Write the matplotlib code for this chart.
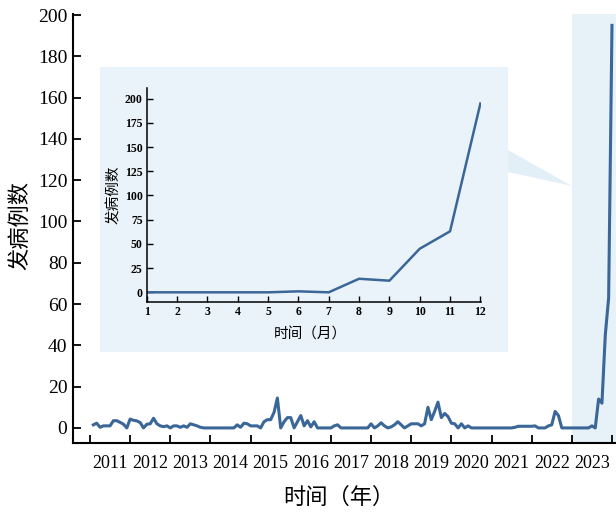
import matplotlib
matplotlib.use("Agg")
import matplotlib.pyplot as plt
from matplotlib.patches import Rectangle, Polygon
import numpy as np

# ---- data (monthly case counts) ----
cases_2011 = [1.5, 2.3, 0.3, 1, 1, 1, 3.5, 3.5, 2.7, 1.8, 0, 4.3]
cases_2012 = [3.7, 3.4, 2.6, 0, 1.8, 2, 4.7, 2, 1, 0.6, 1, 0]
cases_2013 = [1, 1, 0.3, 1, 0.3, 2, 1.5, 1, 0.3, 0, 0, 0]
cases_2014 = [0, 0, 0, 0, 0, 0, 0, 1.5, 0.3, 2.3, 2, 1]
cases_2015 = [1, 1, 0, 3, 4, 4, 7.5, 14.5, 0, 3, 5, 5]
cases_2016 = [0, 3, 6, 1, 3.5, 0.5, 3, 0, 0, 0, 0, 0]
cases_2017 = [1, 1.5, 0, 0, 0, 0, 0, 0, 0, 0, 0, 2]
cases_2018 = [0, 1, 2.5, 1, 0, 0.5, 1.5, 3, 1.5, 0, 1, 2]
cases_2019 = [2, 2, 1, 2, 10, 4, 8, 12.5, 5, 7, 5.5, 2.3]
cases_2020 = [2, 0, 2, 0, 1, 0, 0, 0, 0, 0, 0, 0]
cases_2021 = [0, 0, 0, 0, 0, 0, 0.3, 0.8, 0.8, 0.8, 0.8, 0.8]
cases_2022 = [1, 0, 0, 0, 1, 1.5, 8, 6, 0, 0, 0, 0]
cases_2023 = [0, 0, 0, 0, 0, 1, 0, 14, 12, 45, 63, 195]

years = list(range(2011, 2024))
year_labels = [str(y) for y in years]
months = list(range(1, 13))
main_yticks = list(range(0, 201, 20))
inset_yticks = list(range(0, 201, 25))

all_cases = (cases_2011 + cases_2012 + cases_2013 + cases_2014 + cases_2015 +
             cases_2016 + cases_2017 + cases_2018 + cases_2019 + cases_2020 +
             cases_2021 + cases_2022 + cases_2023)
t = np.array([y + m / 12.0 for y in years for m in months])

LINE = '#3A6698'
BG = '#EAF3F9'
SERIF = 'Liberation Serif'
CJK = ['Noto Sans CJK SC', 'DejaVu Sans']

W, H = 616, 514
fig = plt.figure(figsize=(W / 100, H / 100), dpi=100)

def fx(px):
    return px / W

def fy(py):
    return 1 - py / H

# main axes
ax = fig.add_axes([fx(73), fy(443), fx(543), 429 / H])
ax.set_zorder(0)
ax.set_xlim(2010.577, 2024.1)
ax.set_ylim(-7.3, 200.5)
ax.axvspan(2023, 2024.1, color='#E6F1F8', zorder=0, lw=0)
ax.plot(t, all_cases, color=LINE, lw=2.2, zorder=3)

for s in ['top', 'right']:
    ax.spines[s].set_visible(False)
for s in ['left', 'bottom']:
    ax.spines[s].set_linewidth(1.5)

ax.set_xticks(list(range(2011, 2025)))
ax.set_xticklabels([])
ax.set_xticks([y + 0.5 for y in years], minor=True)
ax.set_xticklabels(year_labels, minor=True, fontfamily=SERIF, fontsize=13)
ax.tick_params(axis='x', which='major', direction='in', length=6, width=1.3)
ax.tick_params(axis='x', which='minor', length=0, pad=9)
ax.set_yticks(main_yticks)
ax.set_yticklabels([str(v) for v in main_yticks], fontfamily=SERIF, fontsize=14)
ax.tick_params(axis='y', direction='in', length=6, width=1.3, pad=4)

fig.text(fx(339), fy(497), '时间（年）', ha='center', va='center',
         fontsize=16, family=CJK)
fig.text(fx(20), fy(226), '发病例数', ha='center', va='center',
         rotation=90, fontsize=16, family=CJK)

# inset background and connector
fig.patches.append(Rectangle((fx(100), fy(352)), fx(408), 285 / H,
                             transform=fig.transFigure, facecolor=BG,
                             edgecolor='none', zorder=1))
fig.patches.append(Polygon([(fx(508), fy(150)), (fx(508), fy(172)),
                            (fx(572), fy(186))], closed=True,
                           transform=fig.transFigure, facecolor='#E3EFF7',
                           edgecolor='none', zorder=1))

# inset axes
ai = fig.add_axes([fx(146.7), fy(302), fx(334.3), 214 / H])
ai.set_zorder(3)
ai.set_facecolor('none')
ai.set_xlim(1, 12.02)
ai.set_ylim(-10, 211)
ai.plot(months, cases_2023, color=LINE, lw=1.8)
for s in ['top', 'right']:
    ai.spines[s].set_visible(False)
for s in ['left', 'bottom']:
    ai.spines[s].set_linewidth(1.1)
ai.set_xticks(months)
ai.set_xticklabels([str(m) for m in months], fontfamily=SERIF,
                   fontweight='bold', fontsize=8.5)
ai.set_yticks(inset_yticks)
ai.set_yticklabels([str(v) for v in inset_yticks], fontfamily=SERIF,
                   fontweight='bold', fontsize=8.5)
ai.tick_params(direction='in', length=4, width=1.0, pad=3)

fig.text(fx(310), fy(335), '时间（月）', ha='center', va='center',
         fontsize=10.5, family=CJK, zorder=4)
fig.text(fx(114), fy(195), '发病例数', ha='center', va='center',
         rotation=90, fontsize=10.5, family=CJK, zorder=4)

fig.savefig('out.png', dpi=100)
